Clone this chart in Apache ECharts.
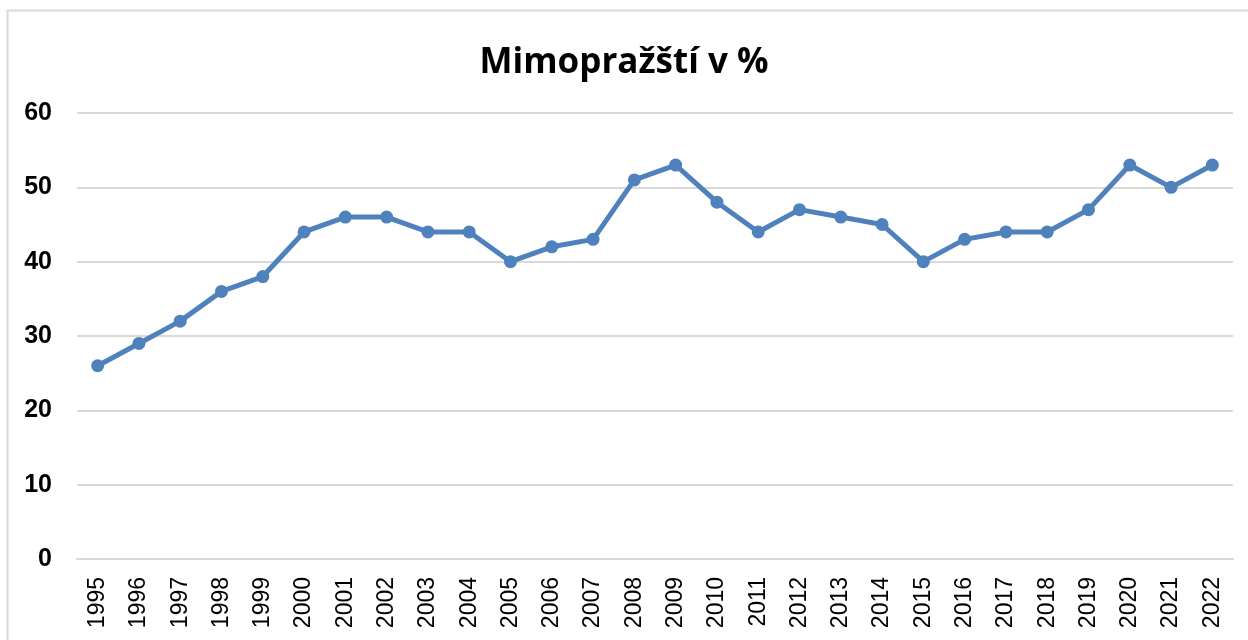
<!DOCTYPE html>
<html>
<head>
<meta charset="utf-8">
<script src="https://cdn.jsdelivr.net/npm/echarts@6/dist/echarts.min.js"></script>
<style>html,body{margin:0;padding:0;background:#fff;}#c{width:1248px;height:640px;}</style>
</head>
<body>
<div id="c"></div>
<script>
const title = 'Mimopražští v %';
const years = ['1995','1996','1997','1998','1999','2000','2001','2002','2003','2004','2005','2006','2007','2008','2009','2010','2011','2012','2013','2014','2015','2016','2017','2018','2019','2020','2021','2022'];
const values = [26,29,32,36,38,44,46,46,44,44,40,42,43,51,53,48,44,47,46,45,40,43,44,44,47,53,50,53];
const yTicks = {min:0, max:60, interval:10};

const chart = echarts.init(document.getElementById('c'));
chart.setOption({
  animation:false,
  backgroundColor:'#fff',
  title:{text:title, left:'center', top:41, textStyle:{fontFamily:'Open Sans', fontWeight:'bold', fontSize:35, color:'#000'}},
  graphic:[{type:'rect', shape:{x:7.5,y:10.5,width:1400,height:800}, style:{fill:'none', stroke:'#d9d9d9', lineWidth:2}, silent:true}],
  grid:{left:77, right:15, top:113, bottom:81, containLabel:false},
  xAxis:{type:'category', data:years, boundaryGap:true,
    axisLine:{show:true, lineStyle:{color:'#d9d9d9', width:2}},
    axisTick:{show:false},
    axisLabel:{rotate:90, interval:0, margin:18, fontFamily:'Liberation Sans', fontSize:23, color:'#000'}},
  yAxis:{type:'value', min:yTicks.min, max:yTicks.max, interval:yTicks.interval,
    axisLine:{show:false}, axisTick:{show:false},
    splitLine:{lineStyle:{color:'#d9d9d9', width:2}},
    axisLabel:{margin:25, fontFamily:'Liberation Sans', fontWeight:'bold', fontSize:25, color:'#000'}},
  series:[{type:'line', data:values, symbol:'circle', symbolSize:13,
    lineStyle:{color:'#4f81bd', width:5}, itemStyle:{color:'#4f81bd'}}]
});
</script>
</body>
</html>
